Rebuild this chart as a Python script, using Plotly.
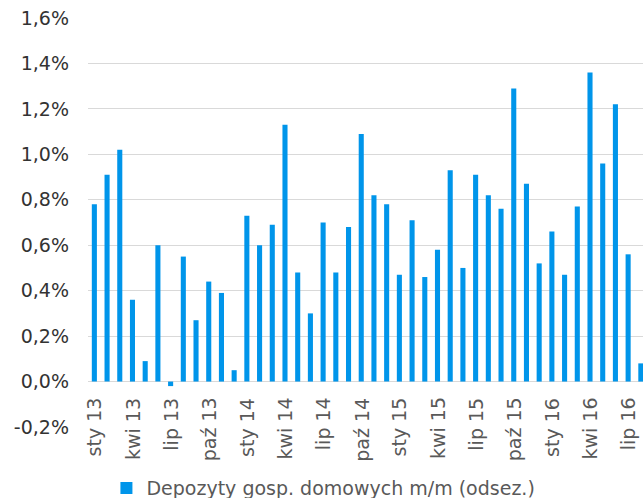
import plotly.graph_objects as go

# Monthly household deposit growth (seasonally adjusted), Jan 2013 - Aug 2016
months = ["sty 13", "lut 13", "mar 13", "kwi 13", "maj 13", "cze 13", "lip 13", "sie 13",
          "wrz 13", "paź 13", "lis 13", "gru 13",
          "sty 14", "lut 14", "mar 14", "kwi 14", "maj 14", "cze 14", "lip 14", "sie 14",
          "wrz 14", "paź 14", "lis 14", "gru 14",
          "sty 15", "lut 15", "mar 15", "kwi 15", "maj 15", "cze 15", "lip 15", "sie 15",
          "wrz 15", "paź 15", "lis 15", "gru 15",
          "sty 16", "lut 16", "mar 16", "kwi 16", "maj 16", "cze 16", "lip 16", "sie 16"]
deposits_mm = [0.78, 0.91, 1.02, 0.36, 0.09, 0.60, -0.02, 0.55, 0.27, 0.44, 0.39, 0.05,
               0.73, 0.60, 0.69, 1.13, 0.48, 0.30, 0.70, 0.48, 0.68, 1.09, 0.82, 0.78,
               0.47, 0.71, 0.46, 0.58, 0.93, 0.50, 0.91, 0.82, 0.76, 1.29, 0.87, 0.52,
               0.66, 0.47, 0.77, 1.36, 0.96, 1.22, 0.56, 0.08]
series_name = "Depozyty gosp. domowych m/m (odsez.)"
y_tick_values = [-0.2, 0.0, 0.2, 0.4, 0.6, 0.8, 1.0, 1.2, 1.4, 1.6]
y_tick_labels = ["-0,2%", "0,0%", "0,2%", "0,4%", "0,6%", "0,8%", "1,0%", "1,2%", "1,4%", "1,6%"]
# every third month gets a label on the category axis
label_step = 3

FONT = "DejaVu Sans"
BLUE = "#0095EA"
GRID = "#d9d9d9"

x_idx = list(range(len(months)))

fig = go.Figure()
fig.add_trace(go.Bar(
    x=x_idx,
    y=deposits_mm,
    name=series_name,
    marker=dict(color=BLUE, line=dict(width=0)),
    width=0.4,
))

# category labels sit just below the zero line, rotated
for i in range(0, len(months), label_step):
    fig.add_annotation(
        x=i, y=0, xref="x", yref="y",
        text=months[i], textangle=-90,
        showarrow=False, xanchor="center", yanchor="top",
        yshift=-14,
        font=dict(family=FONT, size=19, color="#595959"),
    )

fig.update_layout(
    width=643, height=498,
    margin=dict(l=88, r=0, t=18, b=71),
    paper_bgcolor="white", plot_bgcolor="white",
    showlegend=True,
    legend=dict(
        orientation="h",
        xref="container", yref="container",
        x=0.503, xanchor="center", y=0.02, yanchor="middle",
        font=dict(family=FONT, size=19, color="#595959"),
        itemwidth=30,
    ),
    bargap=0.6,
)
fig.update_xaxes(
    range=[-0.5, 43.17],
    showticklabels=False, showgrid=False, zeroline=False,
    showline=False, ticks="",
)
fig.update_yaxes(
    range=[-0.2, 1.6],
    tickmode="array", tickvals=y_tick_values, ticktext=y_tick_labels,
    showgrid=True, gridcolor=GRID, gridwidth=1,
    zeroline=True, zerolinecolor=GRID, zerolinewidth=1,
    showline=False, ticks="",
    ticklabelstandoff=18,
    tickfont=dict(family=FONT, size=19, color="#333333"),
)

fig.write_html("out.html")
